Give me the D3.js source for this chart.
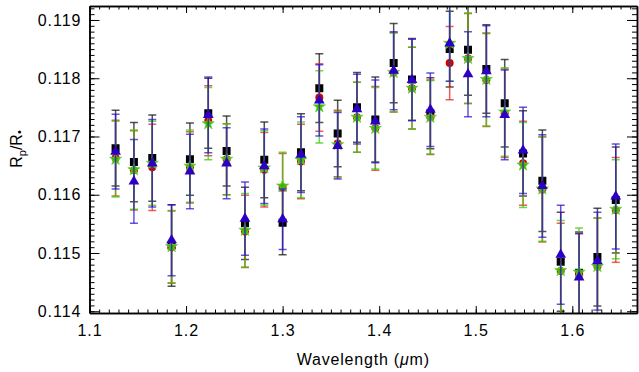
<!DOCTYPE html>
<html>
<head>
<meta charset="utf-8">
<script src="https://cdn.jsdelivr.net/npm/d3@7"></script>
<style>
  body { margin: 0; background: #fff; }
  text { font-family: 'Liberation Sans', Arial, sans-serif; }
</style>
</head>
<body>
<div id="chart"></div>
<script>
// wavelength bins (micron)
let wavelengths = [1.127, 1.146, 1.165, 1.185, 1.204, 1.223, 1.242, 1.261, 1.281, 1.300,
  1.319, 1.338, 1.357, 1.377, 1.396, 1.415, 1.434, 1.453, 1.473, 1.492,
  1.511, 1.530, 1.549, 1.569, 1.588, 1.607, 1.626, 1.645]

let blackVals = [0.11680, 0.11656, 0.11663, 0.11513, 0.11661, 0.11740, 0.11675, 0.11551, 0.11660, 0.11552,
  0.11673, 0.11783, 0.11705, 0.11750, 0.11729, 0.11826, 0.11798, 0.11740, 0.11850, 0.11849,
  0.11816, 0.11757, 0.11671, 0.11624, 0.11485, 0.11466, 0.11493, 0.11591]
let blackErr = [0.00065, 0.00068, 0.00074, 0.00070, 0.00062, 0.00060, 0.00060, 0.00062, 0.00065, 0.00055,
  0.00066, 0.00059, 0.00057, 0.00060, 0.00073, 0.00068, 0.00070, 0.00061, 0.00065, 0.00078,
  0.00076, 0.00075, 0.00073, 0.00087, 0.00085, 0.00070, 0.00084, 0.00091]

let redVals = [0.11663, 0.11642, 0.11647, 0.11510, 0.11647, 0.11727, 0.11661, 0.11537, 0.11643, 0.11613,
  0.11657, 0.11767, 0.11688, 0.11733, 0.11714, 0.11810, 0.11783, 0.11733, 0.11826, 0.11834,
  0.11797, 0.11740, 0.11654, 0.11609, 0.11469, 0.11463, 0.11477, 0.11574]
let redErr = [0.00065, 0.00068, 0.00074, 0.00062, 0.00061, 0.00060, 0.00061, 0.00062, 0.00064, 0.00058,
  0.00064, 0.00058, 0.00057, 0.00060, 0.00072, 0.00068, 0.00070, 0.00064, 0.00063, 0.00077,
  0.00080, 0.00076, 0.00072, 0.00090, 0.00082, 0.00071, 0.00083, 0.00090]

let greenVals = [0.11661, 0.11643, 0.11654, 0.11511, 0.11649, 0.11722, 0.11661, 0.11539, 0.11646, 0.11615,
  0.11660, 0.11751, 0.11686, 0.11733, 0.11714, 0.11810, 0.11783, 0.11733, 0.11860, 0.11834,
  0.11798, 0.11742, 0.11651, 0.11610, 0.11470, 0.11467, 0.11477, 0.11575]
let greenErr = [0.00065, 0.00068, 0.00072, 0.00062, 0.00062, 0.00062, 0.00061, 0.00063, 0.00064, 0.00058,
  0.00065, 0.00062, 0.00057, 0.00060, 0.00070, 0.00068, 0.00070, 0.00063, 0.00065, 0.00078,
  0.00080, 0.00076, 0.00073, 0.00090, 0.00086, 0.00076, 0.00083, 0.00085]

let blueVals = [0.11674, 0.11623, 0.11654, 0.11522, 0.11640, 0.11737, 0.11654, 0.11559, 0.11649, 0.11558,
  0.11669, 0.11762, 0.11684, 0.11747, 0.11726, 0.11813, 0.11797, 0.11746, 0.11860, 0.11807,
  0.11812, 0.11737, 0.11676, 0.11615, 0.11497, 0.11458, 0.11486, 0.11597]
let blueErr = [0.00064, 0.00072, 0.00075, 0.00061, 0.00064, 0.00065, 0.00061, 0.00063, 0.00064, 0.00052,
  0.00065, 0.00061, 0.00057, 0.00060, 0.00071, 0.00067, 0.00070, 0.00063, 0.00065, 0.00073,
  0.00078, 0.00077, 0.00074, 0.00088, 0.00085, 0.00075, 0.00084, 0.00090]

let yTicks = [0.114, 0.115, 0.116, 0.117, 0.118, 0.119]
let xTicks = [1.1, 1.2, 1.3, 1.4, 1.5, 1.6]

let width = 639
let height = 372
let plot = { left: 89.5, right: 637, top: 6, bottom: 313 }

let svg = d3
  .select('#chart')
  .append('svg')
  .attr('width', width)
  .attr('height', height)

let xPositionScale = d3.scaleLinear().domain([1.1, 1.667]).range([plot.left, plot.right])
let yPositionScale = d3.scaleLinear().domain([0.11397, 0.11924]).range([plot.bottom, plot.top])

svg
  .append('clipPath')
  .attr('id', 'clip')
  .append('rect')
  .attr('x', plot.left)
  .attr('y', plot.top)
  .attr('width', plot.right - plot.left)
  .attr('height', plot.bottom - plot.top)

let series = [
  { name: 'black', vals: blackVals, errs: blackErr, color: '#000000', bar: '#111111', shape: 'square' },
  { name: 'red', vals: redVals, errs: redErr, color: '#d40000', bar: '#e02020', shape: 'circle' },
  { name: 'green', vals: greenVals, errs: greenErr, color: '#3cb800', bar: '#33cc00', shape: 'star' },
  { name: 'blue', vals: blueVals, errs: blueErr, color: '#2c00c4', bar: '#2a10d0', shape: 'triangle' }
]

let shapes = {
  square: d3.symbol().type(d3.symbolSquare).size(64),
  circle: d3.symbol().type(d3.symbolCircle).size(50),
  star: d3.symbol().type(d3.symbolStar).size(46),
  triangle: d3.symbol().type(d3.symbolTriangle).size(50)
}

let dataLayer = svg.append('g').attr('clip-path', 'url(#clip)')

series.forEach(s => {
  let points = wavelengths.map((w, i) => ({ x: w, y: s.vals[i], e: s.errs[i] }))
  let g = dataLayer.append('g').attr('class', 'series-' + s.name)

  let bars = g
    .selectAll('.err')
    .data(points)
    .enter()
    .append('g')
    .attr('class', 'err')
    .attr('stroke', s.bar)
    .attr('stroke-width', 1.5)
    .attr('stroke-opacity', 0.72)

  bars
    .append('line')
    .attr('x1', d => xPositionScale(d.x))
    .attr('x2', d => xPositionScale(d.x))
    .attr('y1', d => yPositionScale(d.y - d.e))
    .attr('y2', d => yPositionScale(d.y + d.e))

  bars
    .append('line')
    .attr('x1', d => xPositionScale(d.x) - 4)
    .attr('x2', d => xPositionScale(d.x) + 4)
    .attr('y1', d => yPositionScale(d.y + d.e))
    .attr('y2', d => yPositionScale(d.y + d.e))

  bars
    .append('line')
    .attr('x1', d => xPositionScale(d.x) - 4)
    .attr('x2', d => xPositionScale(d.x) + 4)
    .attr('y1', d => yPositionScale(d.y - d.e))
    .attr('y2', d => yPositionScale(d.y - d.e))

  g.selectAll('.marker')
    .data(points)
    .enter()
    .append('path')
    .attr('class', 'marker')
    .attr('d', shapes[s.shape])
    .attr('transform', d => 'translate(' + xPositionScale(d.x) + ',' + yPositionScale(d.y) + ')')
    .attr('fill', s.color)
    .attr('stroke', s.shape === 'star' ? '#6ad63a' : 'none')
    .attr('stroke-width', 0.8)
})

// axes, IDL style: ticks inside on all four sides
let xMinor = d3.range(110, 167).map(d => d / 100)
let yMinor = d3.range(1140, 1193).map(d => d / 10000)

function drawAxis(axis, transform, cls) {
  let g = svg
    .append('g')
    .attr('class', cls)
    .attr('transform', transform)
    .call(axis)
  g.select('.domain').attr('stroke', '#000').attr('stroke-width', 1.5)
  g.selectAll('line').attr('stroke', '#000')
  g.selectAll('text')
    .attr('font-size', 16)
    .attr('letter-spacing', 1)
    .attr('fill', '#000')
  return g
}

let bottomY = 'translate(0,' + plot.bottom + ')'
let topY = 'translate(0,' + plot.top + ')'
let leftX = 'translate(' + plot.left + ',0)'
let rightX = 'translate(' + plot.right + ',0)'

drawAxis(d3.axisBottom(xPositionScale).tickValues(xMinor).tickSizeInner(-3.5).tickSizeOuter(0).tickFormat(''), bottomY, 'x-minor')
drawAxis(d3.axisBottom(xPositionScale).tickValues(xTicks).tickSizeInner(-7).tickSizeOuter(0).tickPadding(12).tickFormat(d3.format('.1f')), bottomY, 'axis x-axis')
drawAxis(d3.axisTop(xPositionScale).tickValues(xMinor).tickSizeInner(-3.5).tickSizeOuter(0).tickFormat(''), topY, 'x-minor-top')
drawAxis(d3.axisTop(xPositionScale).tickValues(xTicks).tickSizeInner(-7).tickSizeOuter(0).tickFormat(''), topY, 'x-top')

drawAxis(d3.axisLeft(yPositionScale).tickValues(yMinor).tickSizeInner(-5).tickSizeOuter(0).tickFormat(''), leftX, 'y-minor')
drawAxis(d3.axisLeft(yPositionScale).tickValues(yTicks).tickSizeInner(-10).tickSizeOuter(0).tickPadding(8).tickFormat(d3.format('.3f')), leftX, 'axis y-axis')
drawAxis(d3.axisRight(yPositionScale).tickValues(yMinor).tickSizeInner(-5).tickSizeOuter(0).tickFormat(''), rightX, 'y-minor-right')
drawAxis(d3.axisRight(yPositionScale).tickValues(yTicks).tickSizeInner(-10).tickSizeOuter(0).tickFormat(''), rightX, 'y-right')

// axis titles
let xTitle = svg
  .append('text')
  .attr('x', (plot.left + plot.right) / 2)
  .attr('y', 365)
  .attr('text-anchor', 'middle')
  .attr('font-size', 16)
  .attr('letter-spacing', 0.8)
xTitle.append('tspan').text('Wavelength (')
xTitle.append('tspan').attr('font-style', 'italic').text('μ')
xTitle.append('tspan').text('m)')

let yTitle = svg
  .append('text')
  .attr('transform', 'translate(22,149) rotate(-90)')
  .attr('text-anchor', 'middle')
  .attr('font-size', 16)
yTitle.append('tspan').text('R')
yTitle.append('tspan').attr('font-size', 11).attr('dy', 4).text('p')
yTitle.append('tspan').attr('dy', -4).text('/R')
yTitle.append('tspan').attr('font-size', 11).attr('dy', 1).text('•')
</script>
</body>
</html>
